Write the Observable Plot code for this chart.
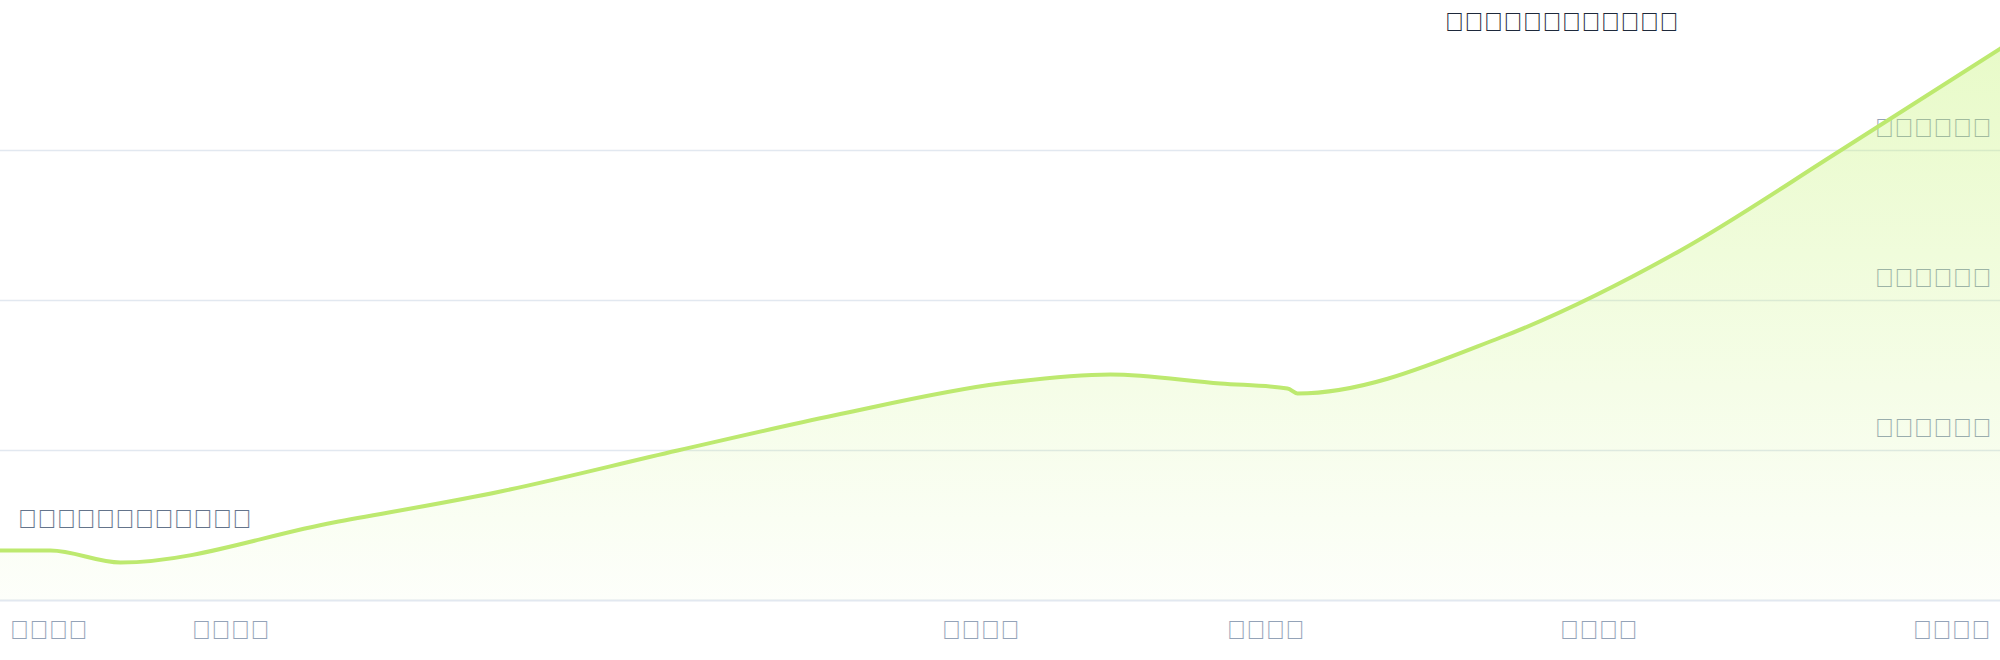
<!DOCTYPE html>
<html>
<head>
<meta charset="utf-8">
<script src="https://cdn.jsdelivr.net/npm/d3@7"></script>
<script src="https://cdn.jsdelivr.net/npm/@observablehq/plot@0.6"></script>
<style>
  html, body { margin: 0; padding: 0; background: #ffffff; }
  #chart { width: 2000px; height: 660px; }
</style>
</head>
<body>
<div id="chart"></div>
<script>
// ---- data ----
// The reference shows every label as missing-glyph boxes; the characters below
// render the same way (12 / 12 / 6 / 4 boxes per label).
const title = "\uE000\uE001\uE002\uE003\uE004\uE005\uE006\uE007\uE008\uE009\uE00A\uE00B";
const startNote = "\uE010\uE011\uE012\uE013\uE014\uE015\uE016\uE017\uE018\uE019\uE01A\uE01B";

const xs = [0, 2.5, 6, 16.65, 25, 33.85, 41.65, 50, 55.5, 61, 64.35, 64.85, 75, 84, 92, 100];
const ys = [33333, 33333, 25333, 52000, 72667, 100000, 123333, 144667, 150667, 144667, 141333, 138000, 175333, 233333, 300000, 368000];

const yTicks = [100000, 200000, 300000];
const yTickLabels = [
  "\uE021\uE020\uE020\uE020\uE020\uE020",
  "\uE022\uE020\uE020\uE020\uE020\uE020",
  "\uE023\uE020\uE020\uE020\uE020\uE020"
];

const xTicks = [0, 11.5, 49, 63.25, 79.9, 100];
const xTickLabels = [
  "\uE030\uE031\uE032\uE033",
  "\uE030\uE031\uE032\uE034",
  "\uE030\uE031\uE032\uE035",
  "\uE030\uE031\uE032\uE036",
  "\uE030\uE031\uE032\uE037",
  "\uE030\uE031\uE032\uE038"
];

// ---- build ----
const data = xs.map((x, i) => ({x, y: ys[i]}));
const xTickData = xTicks.map((x, i) => ({x, label: xTickLabels[i]}));
const yTickData = yTicks.map((y, i) => ({y, label: yTickLabels[i]}));

const FS = 26;
const FONT = "'Liberation Sans', Arial, sans-serif";

const chart = Plot.plot({
  width: 2000,
  height: 660,
  marginTop: 0,
  marginRight: 0,
  marginLeft: 0,
  marginBottom: 60,
  style: {fontFamily: FONT, fontSize: FS + "px", background: "transparent", overflow: "visible"},
  x: {domain: [0, 100], axis: null},
  y: {domain: [0, 400000], axis: null},
  marks: [
    () => {
      const svg = d3.create("svg:defs");
      const g = svg.append("linearGradient").attr("id", "areaGrad").attr("x1", 0).attr("y1", 0).attr("x2", 0).attr("y2", 1);
      g.append("stop").attr("offset", "0%").attr("stop-color", "#bef264").attr("stop-opacity", 0.35);
      g.append("stop").attr("offset", "100%").attr("stop-color", "#bef264").attr("stop-opacity", 0.03);
      return svg.node();
    },
    Plot.ruleY(yTicks, {stroke: "#e2e8f0", strokeWidth: 1.5}),
    Plot.text(yTickData, {y: "y", text: "label", frameAnchor: "right", textAnchor: "end", lineAnchor: "middle", dx: -9, dy: -22, fill: "#94a3b8", fontSize: FS}),
    Plot.ruleY([0], {stroke: "#e2e8f0", strokeWidth: 2}),
    Plot.areaY(data, {x: "x", y: "y", curve: "monotone-x", fill: "url(#areaGrad)"}),
    Plot.lineY(data, {x: "x", y: "y", curve: "monotone-x", stroke: "#bde96f", strokeWidth: 4}),
    Plot.text(data.slice(0, 1), {x: "x", y: "y", text: () => startNote, textAnchor: "start", lineAnchor: "middle", dx: 17, dy: -31, fill: "#64748b", fontSize: FS}),
    Plot.text([title], {text: d => d, frameAnchor: "top-right", textAnchor: "end", lineAnchor: "middle", dx: -322, dy: 22, fill: "#1e293b", fontSize: FS}),
    Plot.text(xTickData.slice(0, 1), {x: "x", text: "label", frameAnchor: "bottom", textAnchor: "start", lineAnchor: "middle", dx: 9, dy: 30, fill: "#94a3b8", fontSize: FS}),
    Plot.text(xTickData.slice(1, -1), {x: "x", text: "label", frameAnchor: "bottom", textAnchor: "middle", lineAnchor: "middle", dy: 30, fill: "#94a3b8", fontSize: FS}),
    Plot.text(xTickData.slice(-1), {x: "x", text: "label", frameAnchor: "bottom", textAnchor: "end", lineAnchor: "middle", dx: -10, dy: 30, fill: "#94a3b8", fontSize: FS})
  ]
});
document.getElementById("chart").appendChild(chart);
</script>
</body>
</html>
